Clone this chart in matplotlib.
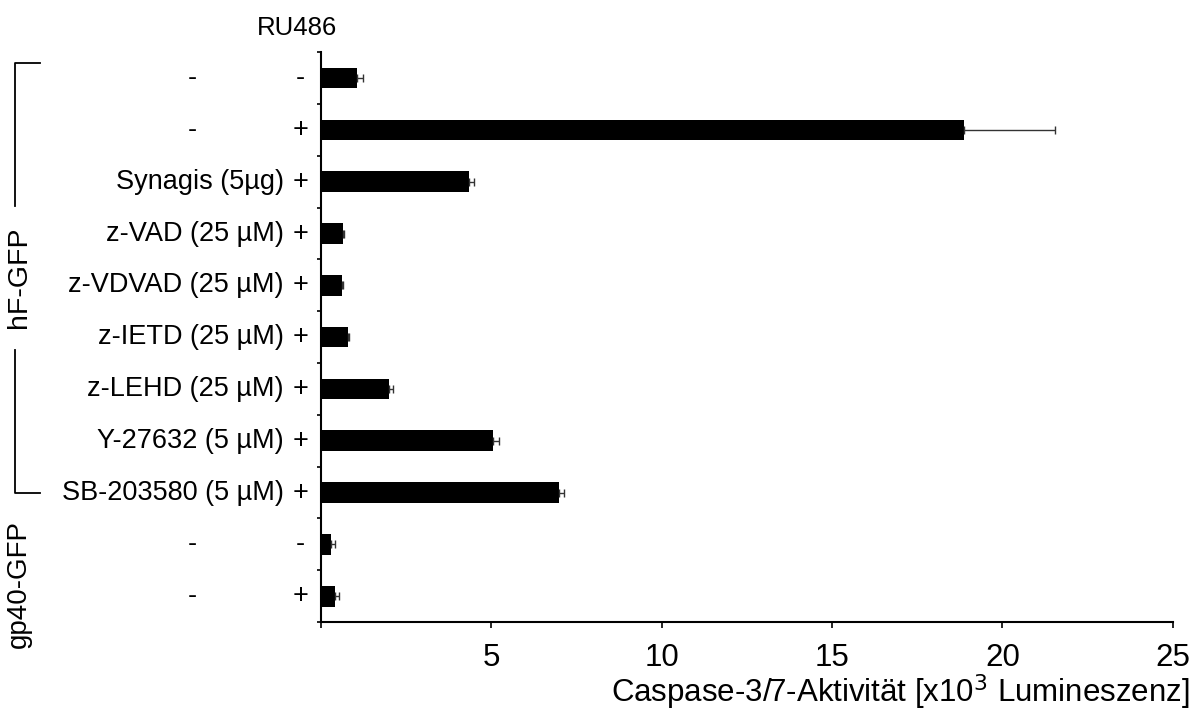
import matplotlib.pyplot as plt
import numpy as np

plt.rcParams['font.family'] = ['Liberation Sans', 'DejaVu Sans']

# data
treatments = ["-", "-", "Synagis (5µg)", "z-VAD (25 µM)", "z-VDVAD (25 µM)",
              "z-IETD (25 µM)", "z-LEHD (25 µM)", "Y-27632 (5 µM)",
              "SB-203580 (5 µM)", "-", "-"]
ru486 = ["-", "+", "+", "+", "+", "+", "+", "+", "+", "-", "+"]
values = [1.05, 18.88, 4.35, 0.64, 0.61, 0.78, 1.99, 5.06, 6.99, 0.29, 0.41]
errors = [0.17, 2.66, 0.14, 0.04, 0.04, 0.05, 0.13, 0.15, 0.14, 0.12, 0.12]
xticks = [0, 5, 10, 15, 20, 25]
xticklabels = ["", "5", "10", "15", "20", "25"]

fig = plt.figure(figsize=(11.98, 7.15), dpi=100)
ax = fig.add_axes([0.268, 0.130, 0.711, 0.797])

y = np.arange(len(values))
ax.barh(y, values, height=0.4, color='black')
ax.errorbar(values, y, xerr=[np.zeros(len(errors)), errors], fmt='none',
            ecolor='#333333', elinewidth=1, capsize=3, capthick=1)

ax.set_xlim(0, 25)
ax.set_ylim(len(values) - 0.5, -0.5)
ax.set_xticks(xticks)
ax.set_xticklabels(xticklabels, fontsize=22.5)
ax.tick_params(axis='x', direction='out', length=4, width=1.2, pad=11)
ax.set_yticks(np.arange(len(values) + 1) - 0.5)
ax.set_yticklabels([])
ax.tick_params(axis='y', direction='out', length=3, width=1.2)

for s in ['top', 'right']:
    ax.spines[s].set_visible(False)
for s in ['left', 'bottom']:
    ax.spines[s].set_linewidth(1.5)

ax.set_xlabel("Caspase-3/7-Aktivität [x10$^{3}$ Lumineszenz]", fontsize=22.5,
              ha='right', x=1.02, labelpad=0)

tr = ax.get_yaxis_transform()
for i, (t, r) in enumerate(zip(treatments, ru486)):
    if t == "-":
        ax.text(-0.151, i, t, transform=tr, ha='center', va='center', fontsize=19.5)
    else:
        ax.text(-0.044, i, t, transform=tr, ha='right', va='center', fontsize=19.5)
    ax.text(-0.024, i, r, transform=tr, ha='center', va='center', fontsize=19.5)

ax.text(-0.028, -0.96, "RU486", transform=tr, ha='center', va='center', fontsize=18.5)

# group brackets
bx, tx = -0.359, -0.330
ax.plot([tx, bx, bx], [-0.3, -0.3, 2.47], color='black', lw=1.3,
        transform=tr, clip_on=False)
ax.plot([bx, bx, tx], [5.25, 8.0, 8.0], color='black', lw=1.3,
        transform=tr, clip_on=False)
ax.text(-0.355, 3.85, "hF-GFP", transform=tr, rotation=90, ha='center',
        va='center', fontsize=20.5)
ax.text(-0.355, 9.77, "gp40-GFP", transform=tr, rotation=90, ha='center',
        va='center', fontsize=20)

fig.savefig("out.png", dpi=100)
